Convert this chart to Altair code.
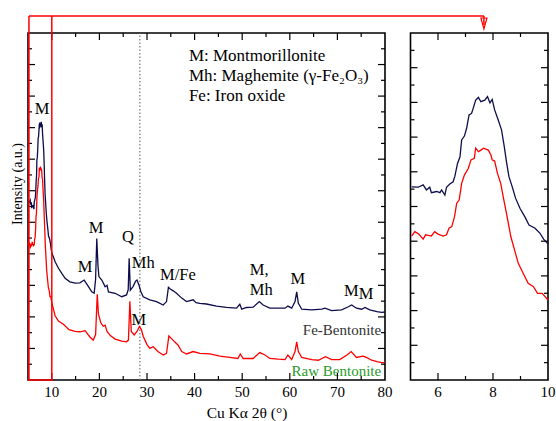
import altair as alt
import pandas as pd

# ---------------- data ----------------
fe_x = [5.04, 5.28, 5.46, 5.58, 5.70, 5.76, 5.95, 6.07, 6.13, 6.25, 6.31, 6.43, 6.55, 6.61, 6.71,
        6.80, 6.86, 6.96, 7.04, 7.13, 7.22, 7.28, 7.37, 7.47, 7.56, 7.70, 7.80, 7.89, 7.97, 8.06,
        8.19, 8.31, 8.41, 8.49, 8.58, 8.70, 8.82, 8.98, 9.16, 9.31, 9.53, 9.71, 9.84, 10.0,
        10.7, 11.4, 12.1, 12.8, 13.8, 14.9, 15.9, 16.8, 17.7, 18.4, 18.9, 19.2, 19.45, 19.7, 19.9,
        20.5, 21.2, 21.6, 21.9, 23.3, 24.7, 25.7, 26.05, 26.25, 26.5, 27.1, 27.6, 27.9, 28.3, 28.7,
        29.2, 30.6, 32.0, 33.4, 34.1, 34.5, 34.9, 35.5, 36.2, 37.3, 38.3, 39.7, 40.3, 41.1, 42.5,
        44.6, 46.7, 48.8, 49.5, 49.9, 50.9, 52.3, 53.6, 54.4, 55.8, 57.6, 59.0, 59.6, 60.4, 61.1,
        61.45, 61.8, 62.5, 64.6, 66.7, 67.4, 68.8, 70.9, 72.3, 73.0, 74.0, 75.1, 75.8, 76.8, 78.3,
        79.3, 80.0]
fe_y = [51.3, 51.2, 51.8, 50.5, 51.2, 49.8, 50.1, 49.8, 50.5, 49.2, 51.2, 52.0, 52.6, 53.9, 57.3,
        59.0, 63.3, 64.3, 66.3, 69.7, 70.1, 71.4, 73.5, 74.2, 73.1, 73.5, 74.4, 72.8, 73.7, 71.0,
        68.4, 65.9, 61.6, 57.7, 53.9, 51.3, 48.4, 45.8, 43.6, 41.5, 40.7, 39.4, 37.9, 36.7,
        34.1, 32.2, 30.7, 29.3, 28.3, 27.9, 28.0, 28.8, 26.9, 25.4, 25.0, 29.0, 40.8, 33.0, 29.8,
        28.8, 26.9, 27.3, 25.4, 25.0, 24.0, 24.5, 26.0, 35.1, 25.9, 27.0, 28.5, 28.8, 27.4, 25.5,
        24.0, 23.1, 22.6, 21.6, 22.6, 26.7, 26.2, 25.7, 25.0, 23.6, 22.6, 23.1, 22.3, 22.1, 21.9,
        21.3, 20.9, 20.7, 21.8, 20.4, 20.9, 21.0, 22.6, 21.6, 20.7, 20.7, 20.7, 21.3, 20.7, 22.6,
        25.4, 22.1, 20.4, 20.2, 20.4, 20.7, 20.0, 20.2, 21.1, 21.6, 20.7, 20.4, 20.9, 20.2, 19.7,
        19.5, 19.6]

raw_x = [5.04, 5.16, 5.30, 5.46, 5.55, 5.76, 5.88, 6.00, 6.19, 6.31, 6.40, 6.50, 6.60, 6.68, 6.77,
         6.86, 6.96, 7.10, 7.20, 7.32, 7.37, 7.47, 7.56, 7.65, 7.83, 7.92, 7.97, 8.06, 8.16, 8.28,
         8.37, 8.49, 8.65, 8.80, 8.92, 9.10, 9.28, 9.47, 9.62, 9.79, 10.0,
         10.7, 11.4, 12.5, 13.6, 14.9, 15.9, 17.0, 18.0, 18.7, 19.2, 19.55, 19.8, 20.3, 20.8, 21.2,
         21.6, 22.3, 23.3, 24.7, 25.7, 26.1, 26.4, 26.7, 27.3, 27.9, 28.4, 28.8, 29.2, 30.0, 30.6,
         31.3, 32.3, 33.4, 34.1, 34.6, 35.1, 35.8, 36.5, 37.3, 38.3, 39.7, 41.1, 43.2, 45.3, 47.4,
         49.1, 49.6, 50.2, 52.3, 53.7, 54.8, 55.8, 57.6, 59.0, 59.6, 60.4, 61.1, 61.45, 61.8, 62.5,
         64.6, 66.0, 67.5, 68.8, 70.5, 72.0, 72.9, 74.0, 75.4, 76.1, 77.2, 78.3, 79.3, 80.0]
raw_y = [38.7, 39.8, 39.2, 37.9, 39.0, 38.7, 39.8, 39.2, 38.7, 39.0, 40.7, 41.1, 43.6, 47.1, 47.9,
         52.2, 54.3, 56.0, 58.2, 58.6, 61.2, 60.3, 60.7, 61.2, 60.7, 59.5, 58.2, 57.9, 54.8, 52.2,
         48.8, 44.5, 38.5, 34.7, 31.7, 29.1, 26.6, 25.7, 24.0, 24.0, 22.3,
         18.5, 17.0, 16.0, 14.5, 14.0, 13.9, 14.2, 12.4, 11.5, 13.0, 24.7, 19.0, 16.5, 15.5, 15.8,
         14.0, 12.8, 11.8, 11.2, 11.0, 11.5, 22.7, 14.0, 13.0, 14.0, 15.4, 14.6, 12.6, 10.2, 9.1,
         9.6, 8.2, 7.2, 7.7, 12.7, 12.0, 11.0, 10.1, 8.2, 7.5, 8.2, 7.7, 7.5, 6.9, 6.5,
         6.2, 7.5, 6.2, 6.2, 7.9, 7.2, 6.2, 6.0, 5.9, 7.2, 5.9, 8.2, 11.0, 8.2, 6.5,
         5.9, 5.7, 6.7, 5.9, 5.9, 7.2, 8.2, 6.5, 6.9, 6.5, 5.7, 5.3, 5.0, 5.0]

peak_c_text = ["M", "M", "M", "Q", "Mh", "M/Fe", "M", "M", "M", "M"]
peak_c_x = [7.94, 17.0, 19.3, 26.0, 29.2, 36.5, 28.3, 61.7, 72.9, 76.0]
peak_c_y = [76.7, 31.1, 42.4, 39.8, 32.3, 28.8, 15.9, 27.7, 24.2, 23.3]
peak_l_text = ["M,", "Mh"]
peak_l_x = [51.6, 51.6]
peak_l_y = [30.3, 24.5]

key_text = ["M: Montmorillonite", "Mh: Maghemite (γ-Fe₂O₃)", "Fe: Iron oxide"]
key_x = [38.8, 38.8, 38.8]
key_y = [91.9, 86.2, 80.4]

series_text = ["Fe-Bentonite", "Raw Bentonite"]
series_x = [79.2, 79.2]
series_y = [13.0, 1.15]
series_color = ["#333333", "#2a9a2a"]

main_x_labels = [10, 20, 30, 40, 50, 60, 70, 80]
main_x_major = [10, 20, 30, 40, 50, 60, 70]
main_x_minor = [15, 25, 35, 45, 55, 65, 75]
ins_x_labels = [6, 8, 10]
ins_x_major = [6, 8]
ins_x_minor = [7, 9]
x_title = "Cu Kα 2θ (°)"
y_title = "Intensity (a.u.)"

MAIN_YDOM = [0, 100]
INS_YDOM = [1.82, 90.7]
quartz_line = 28.5
arrow_target = 7.67

# ---------------- layout ----------------
W_MAIN, GAP, W_INS, H = 357, 25.5, 137.5, 347
MAIN_RANGE = [0, W_MAIN]
INS_RANGE = [W_MAIN + GAP, W_MAIN + GAP + W_INS]
FONT = "Liberation Serif, Times New Roman, DejaVu Serif, serif"
NAVY = "#0d0d4d"
RED = "#ff0000"

MXS = alt.Scale(domain=[5, 80], range=MAIN_RANGE, nice=False, zero=False)
MYS = alt.Scale(domain=MAIN_YDOM, nice=False, zero=False)
IXS = alt.Scale(domain=[5, 10], range=INS_RANGE, nice=False, zero=False)
IYS = alt.Scale(domain=INS_YDOM, nice=False, zero=False)

main_ticks_y = [k * (MAIN_YDOM[1] - MAIN_YDOM[0]) / 22 + MAIN_YDOM[0] for k in range(1, 22)]
ins_ticks_y = [k * (INS_YDOM[1] - INS_YDOM[0]) / 20 + INS_YDOM[0] for k in range(1, 20)]

fe = pd.DataFrame({"x": fe_x, "y": fe_y})
raw = pd.DataFrame({"x": raw_x, "y": raw_y})
fe_in = fe[fe.x <= 10]
raw_in = raw[raw.x <= 10]

MAJ, MIN = 7, 4
LABEL_BASE = H + 17


def tick_layers(xs, ys, x_major, x_minor, y_vals, x0, x1):
    layers = []
    ymaj = pd.DataFrame({"v": [v for i, v in enumerate(y_vals) if (i + 1) % 2 == 0]})
    ymin = pd.DataFrame({"v": [v for i, v in enumerate(y_vals) if (i + 1) % 2 == 1]})
    for df, ln in ((ymaj, MAJ), (ymin, MIN)):
        layers.append(alt.Chart(df).mark_rule(color="black", strokeWidth=1.2).encode(
            y=alt.Y("v:Q", scale=ys, axis=None), x=alt.value(x0), x2=alt.value(x0 + ln)))
        layers.append(alt.Chart(df).mark_rule(color="black", strokeWidth=1.2).encode(
            y=alt.Y("v:Q", scale=ys, axis=None), x=alt.value(x1), x2=alt.value(x1 - ln)))
    for vals, ln in ((x_major, MAJ), (x_minor, MIN)):
        df = pd.DataFrame({"v": vals})
        layers.append(alt.Chart(df).mark_rule(color="black", strokeWidth=1.2).encode(
            x=alt.X("v:Q", scale=xs, axis=None), y=alt.value(H), y2=alt.value(H - ln)))
        layers.append(alt.Chart(df).mark_rule(color="black", strokeWidth=1.2).encode(
            x=alt.X("v:Q", scale=xs, axis=None), y=alt.value(0), y2=alt.value(ln)))
    return layers


def tick_labels(vals, xs):
    return alt.Chart(pd.DataFrame({"v": vals})).mark_text(
        font=FONT, fontSize=15, color="black", align="center", baseline="alphabetic").encode(
        x=alt.X("v:Q", scale=xs, axis=None), y=alt.value(LABEL_BASE), text="v:Q")


# ---------------- main panel ----------------
frame_main = alt.Chart().mark_rect(fill="white", stroke="black", strokeWidth=1.6).encode(
    x=alt.XDatum(5, scale=MXS, axis=None), x2=alt.X2Datum(80),
    y=alt.YDatum(MAIN_YDOM[0], scale=MYS, axis=None), y2=alt.Y2Datum(MAIN_YDOM[1]))

dotted = alt.Chart().mark_rule(color="#777777", strokeDash=[1.5, 2], strokeWidth=1.2).encode(
    x=alt.XDatum(quartz_line, scale=MXS, axis=None),
    y=alt.YDatum(MAIN_YDOM[0], scale=MYS, axis=None), y2=alt.Y2Datum(MAIN_YDOM[1]))

fe_line = alt.Chart(fe).mark_line(color=NAVY, strokeWidth=1.3).encode(
    x=alt.X("x:Q", scale=MXS, axis=None), y=alt.Y("y:Q", scale=MYS, axis=None))
raw_line = alt.Chart(raw).mark_line(color=RED, strokeWidth=1.3).encode(
    x=alt.X("x:Q", scale=MXS, axis=None), y=alt.Y("y:Q", scale=MYS, axis=None))

pc = pd.DataFrame({"t": peak_c_text, "x": peak_c_x, "y": peak_c_y})
pl = pd.DataFrame({"t": peak_l_text, "x": peak_l_x, "y": peak_l_y})
kt = pd.DataFrame({"t": key_text, "x": key_x, "y": key_y})
st = pd.DataFrame({"t": series_text, "x": series_x, "y": series_y, "c": series_color})

txt_c = alt.Chart(pc).mark_text(font=FONT, fontSize=16.5, color="black", align="center",
                                baseline="alphabetic").encode(
    x=alt.X("x:Q", scale=MXS, axis=None), y=alt.Y("y:Q", scale=MYS, axis=None), text="t:N")
txt_l = alt.Chart(pl).mark_text(font=FONT, fontSize=16.5, color="black", align="left",
                                baseline="alphabetic").encode(
    x=alt.X("x:Q", scale=MXS, axis=None), y=alt.Y("y:Q", scale=MYS, axis=None), text="t:N")
txt_k = alt.Chart(kt).mark_text(font=FONT, fontSize=17, color="black", align="left",
                                baseline="alphabetic").encode(
    x=alt.X("x:Q", scale=MXS, axis=None), y=alt.Y("y:Q", scale=MYS, axis=None), text="t:N")
txt_s = alt.Chart(st).mark_text(font=FONT, fontSize=15, align="right",
                                baseline="alphabetic").encode(
    x=alt.X("x:Q", scale=MXS, axis=None), y=alt.Y("y:Q", scale=MYS, axis=None), text="t:N",
    color=alt.Color("c:N", scale=None))

xt = alt.Chart(pd.DataFrame({"t": [x_title]})).mark_text(
    font=FONT, fontSize=15.5, color="black", align="center", baseline="alphabetic").encode(
    x=alt.value(219), y=alt.value(385), text="t:N")
yt = alt.Chart(pd.DataFrame({"t": [y_title]})).mark_text(
    font=FONT, fontSize=14, color="black", align="center", baseline="alphabetic",
    angle=270).encode(x=alt.value(-6), y=alt.value(151), text="t:N")

# red zoom box + connector
TOP = -17
px_per_main = W_MAIN / 75.0
arrow_px = INS_RANGE[0] + (arrow_target - 5) * W_INS / 5.0
arrow_main_val = 5 + arrow_px / px_per_main

box_v = alt.Chart(pd.DataFrame({"x": [5.2, 10]})).mark_rule(color=RED, strokeWidth=1.5).encode(
    x=alt.X("x:Q", scale=MXS, axis=None), y=alt.value(TOP), y2=alt.value(H + 1))
box_b = alt.Chart().mark_rule(color=RED, strokeWidth=1.5).encode(
    x=alt.XDatum(5.2, scale=MXS, axis=None), x2=alt.X2Datum(10), y=alt.value(H))
box_t = alt.Chart().mark_rule(color=RED, strokeWidth=1.5).encode(
    x=alt.XDatum(5.2, scale=MXS, axis=None), x2=alt.X2Datum(arrow_main_val), y=alt.value(TOP))

main = alt.layer(frame_main, dotted, raw_line, fe_line, txt_c, txt_l, txt_k, txt_s,
                 *tick_layers(MXS, MYS, main_x_major, main_x_minor, main_ticks_y,
                              MAIN_RANGE[0], MAIN_RANGE[1]),
                 tick_labels(main_x_labels, MXS), xt, yt,
                 box_v, box_b, box_t)

# ---------------- inset panel ----------------
frame_ins = alt.Chart().mark_rect(fill="white", stroke="black", strokeWidth=1.6).encode(
    x=alt.XDatum(5, scale=IXS, axis=None), x2=alt.X2Datum(10),
    y=alt.YDatum(INS_YDOM[0], scale=IYS, axis=None), y2=alt.Y2Datum(INS_YDOM[1]))
fe_ins = alt.Chart(fe_in).mark_line(color=NAVY, strokeWidth=1.3).encode(
    x=alt.X("x:Q", scale=IXS, axis=None), y=alt.Y("y:Q", scale=IYS, axis=None))
raw_ins = alt.Chart(raw_in).mark_line(color=RED, strokeWidth=1.3).encode(
    x=alt.X("x:Q", scale=IXS, axis=None), y=alt.Y("y:Q", scale=IYS, axis=None))
arrow_v = alt.Chart().mark_rule(color=RED, strokeWidth=1.5).encode(
    x=alt.XDatum(arrow_target, scale=IXS, axis=None), y=alt.value(TOP), y2=alt.value(-8))
arrow_h = alt.Chart().mark_point(shape="M-0.55,-1L0,1L0.55,-1Z", size=121, color=RED,
                                 filled=False, strokeWidth=1.2, opacity=1).encode(
    x=alt.XDatum(arrow_target, scale=IXS, axis=None), y=alt.value(-9.5))

inset = alt.layer(frame_ins, raw_ins, fe_ins,
                  *tick_layers(IXS, IYS, ins_x_major, ins_x_minor, ins_ticks_y,
                               INS_RANGE[0], INS_RANGE[1]),
                  tick_labels(ins_x_labels, IXS),
                  arrow_v, arrow_h)

chart = alt.layer(main, inset).resolve_scale(x="independent", y="independent").properties(
    width=W_MAIN + GAP + W_INS, height=H,
    autosize=alt.AutoSizeParams(type="none"),
    padding={"left": 28, "top": 33, "right": 8, "bottom": 41},
    background="white",
).configure_view(strokeWidth=0)

chart.save("out.html", embed_options={"renderer": "svg", "actions": False})
